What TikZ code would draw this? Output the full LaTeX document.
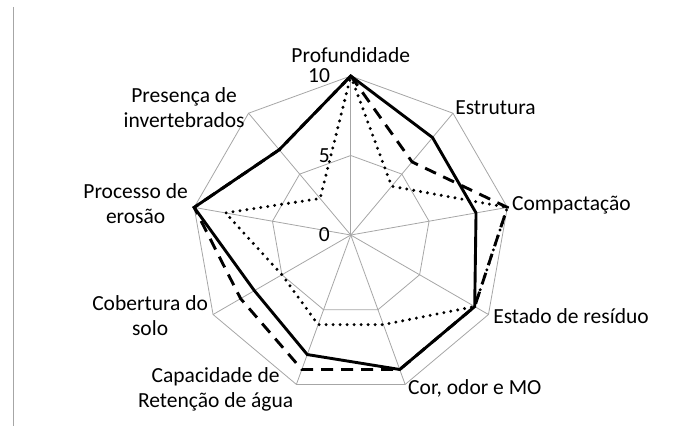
\documentclass[tikz,border=0pt]{standalone}
\usepackage{fontspec}
\setmainfont{Carlito}
\begin{document}
\begin{tikzpicture}[x = 15.9pt, y = 15.9pt, font = \fontsize{21.5}{25}\selectfont,
	gridline/.style = {draw = black!35, line width = .8pt},
	lineA/.style = {line width = 2.9pt, line join = miter},
	lineB/.style = {line width = 2.9pt, dash pattern = on 12pt off 8pt},
	lineC/.style = {line width = 3.3pt, line cap = round, dash pattern = on 0pt off 7pt},
	label/.style = {inner sep = 0pt, align = center}]
	\useasboundingbox (-22.06, -12.01) rectangle (20.58, 14.78);
	\draw [black!35, line width = .8pt] (-21.24, 14.34) -- (-21.24, -12.01);
	\foreach \r in {5, 10}{
		\draw [gridline] (90:\r) \foreach \a in {50, 10, ..., -230}{-- (\a:\r)} -- cycle;}
	\foreach \a in {90, 50, ..., -230}{
		\draw [gridline] (0, 0) -- (\a:10);}
	\foreach \y/\num in {10/10, 5/5, 0/0}{
		\node [label, anchor = east] (tick\num) at (-1.3, \y) {\num};}
	\draw [lineC] (90:10) -- (50:4) -- (10:10) -- (-30:9) -- (-70:6) -- (-110:6) -- (-150:5) -- (170:8) -- (130:3) -- cycle;
	\draw [lineB] (90:10) -- (50:6) -- (10:10) -- (-30:9) -- (-70:9) -- (-110:9) -- (-150:8) -- (170:10) -- (130:7) -- cycle;
	\draw [lineA] (90:10) -- (50:8) -- (10:8) -- (-30:9) -- (-70:9) -- (-110:8) -- (-150:7) -- (170:10) -- (130:7) -- cycle;
	\node [label] (prof) at (0, 11.32) {Profundidade};
	\node [label, anchor = west] (estr) at (6.56, 7.99) {Estrutura};
	\node [label, anchor = west] (comp) at (10.14, 1.89) {Compactação};
	\node [label, anchor = west] (resid) at (8.95, -5.09) {Estado de resíduo};
	\node [label, anchor = west] (cor) at (3.60, -9.62) {Cor, odor e MO};
	\node [label] (agua) at (-8.50, -9.69) {Capacidade de\\Retenção de água};
	\node [label] (cob) at (-12.62, -5.09) {Cobertura do\\solo};
	\node [label] (eros) at (-13.53, 1.95) {Processo de\\erosão};
	\node [label] (invert) at (-10.48, 7.99) {Presença de\\invertebrados};
\end{tikzpicture}
\end{document}
